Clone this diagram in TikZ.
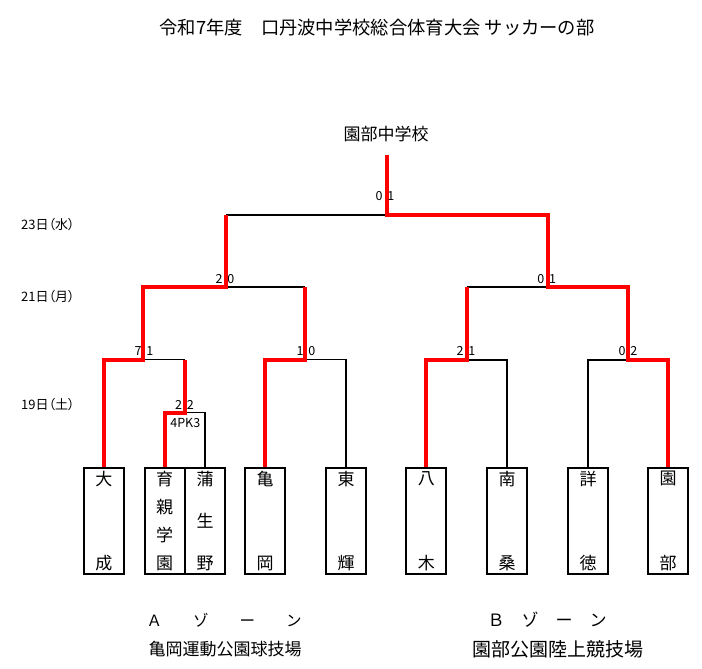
\documentclass[tikz,border=0pt]{standalone}
\usepackage{fontspec}
\setmainfont{Noto Sans CJK JP}
\newfontfamily\jpp[RawFeature=+palt]{Noto Sans CJK JP}
\newfontfamily\scfont[WordSpace=1.7]{Noto Sans CJK JP}
\newcommand\fsz[1]{\fontsize{#1}{#1}\selectfont}
\newcommand\vtxt[1]{\parbox[c][98pt][s]{30pt}{\centering #1}}
\begin{document}
\begin{tikzpicture}[x=1pt,y=-1pt,
  team/.style={draw, line width=2pt, minimum width=40pt, minimum height=106.5pt, inner sep=0pt, font=\fsz{17}},
  win/.style={draw=red, line width=4pt, line join=miter},
  lose/.style={draw=black, line width=1.3pt},
  score/.style={inner sep=0pt, font=\scfont\fsz{12.5}},
  datelbl/.style={inner sep=0pt, anchor=west, font=\jpp\fsz{13}},
  plain/.style={inner sep=0pt}]
\useasboundingbox (0,0) rectangle (702,669);

% title and champion
\node[plain, font=\fsz{18.3}] (title) at (377,28) {令和7年度　口丹波中学校総合体育大会 サッカーの部};
\node[plain, font=\fsz{17}] (champ) at (386,134) {園部中学校};

% dates
\node[datelbl] (d23) at (21,224.3) {23日（水）};
\node[datelbl] (d21) at (21,296.7) {21日（月）};
\node[datelbl] (d19) at (21,405) {19日（土）};

% teams
\node[team] (t1) at (103.75,520.75) {\vtxt{大\par\vfill 成}};
\node[team] (t2) at (164.5,520.75) {\vtxt{育\par\vfill 親\par\vfill 学\par\vfill 園}};
\node[team] (t3) at (205,520.75) {\vtxt{蒲\par\vfill 生\par\vfill 野}};
\node[team] (t4) at (265,520.75) {\vtxt{亀\par\vfill 岡}};
\node[team] (t5) at (346,520.75) {\vtxt{東\par\vfill 輝}};
\node[team] (t6) at (426.25,520.75) {\vtxt{八\par\vfill 木}};
\node[team] (t7) at (507,520.75) {\vtxt{南\par\vfill 桑}};
\node[team] (t8) at (588,520.75) {\vtxt{詳\par\vfill 徳}};
\node[team] (t9) at (668,520.75) {\vtxt{園\par\vfill 部}};

% match points
\coordinate (m1) at (184.5,412.5);
\coordinate (m2) at (143,359.5);
\coordinate (m3) at (305,359.5);
\coordinate (m4) at (467,360);
\coordinate (m5) at (628,360);
\coordinate (s1) at (226,287);
\coordinate (s2) at (548,287);
\coordinate (fin) at (387,215);
\coordinate (ftop) at (387,155);

% losing branches
\draw[lose] (m1) -| (t3.north);
\draw[lose] (m2) -- (m1 |- m2);
\draw[lose] (m3) -| (t5.north);
\draw[lose] (m4) -| (t7.north);
\draw[lose] (t8.north) |- (m5);
\draw[lose] (s1) -- (m3 |- s1);
\draw[lose] (m4 |- s2) -- (s2);
\draw[lose] (s1 |- fin) -- (fin);

% winning branches
\draw[win] (t2.north) |- (m1) -- (m1 |- m2);
\draw[win] (t1.north) |- (m2) -- (m2 |- s1) -- (s1) -- (s1 |- fin);
\draw[win] (t4.north) |- (m3) -- (m3 |- s1);
\draw[win] (t6.north) |- (m4) -- (m4 |- s2);
\draw[win] (t9.north) |- (m5) -- (m5 |- s2) -- (s2) -- (s2 |- fin) -- (fin) -- (ftop);

% scores
\node[score] (sc0) at (385,196.3) {0 1};
\node[score] (sc1) at (225,279.5) {2 0};
\node[score] (sc2) at (546.7,279.5) {0 1};
\node[score] (sc3) at (144,351) {7 1};
\node[score] (sc4) at (306,351) {1 0};
\node[score] (sc5) at (466,351) {2 1};
\node[score] (sc6) at (628,351) {0 2};
\node[score] (sc7) at (184.5,404.5) {2 2};
\node[plain, font=\fsz{12.5}] (pk) at (185.3,422.8) {4PK3};

% zones
\node[plain, font=\fsz{15.5}] (zA) at (224,620) {Ａ　　ゾ　　ー　　ン};
\node[plain, font=\fsz{17}] (vA) at (225,649.5) {亀岡運動公園球技場};
\node[plain, font=\fsz{17}] (zB) at (547,619.5) {Ｂ　ゾ　ー　ン};
\node[plain, font=\fsz{19}] (vB) at (558,649.5) {園部公園陸上競技場};
\end{tikzpicture}
\end{document}
